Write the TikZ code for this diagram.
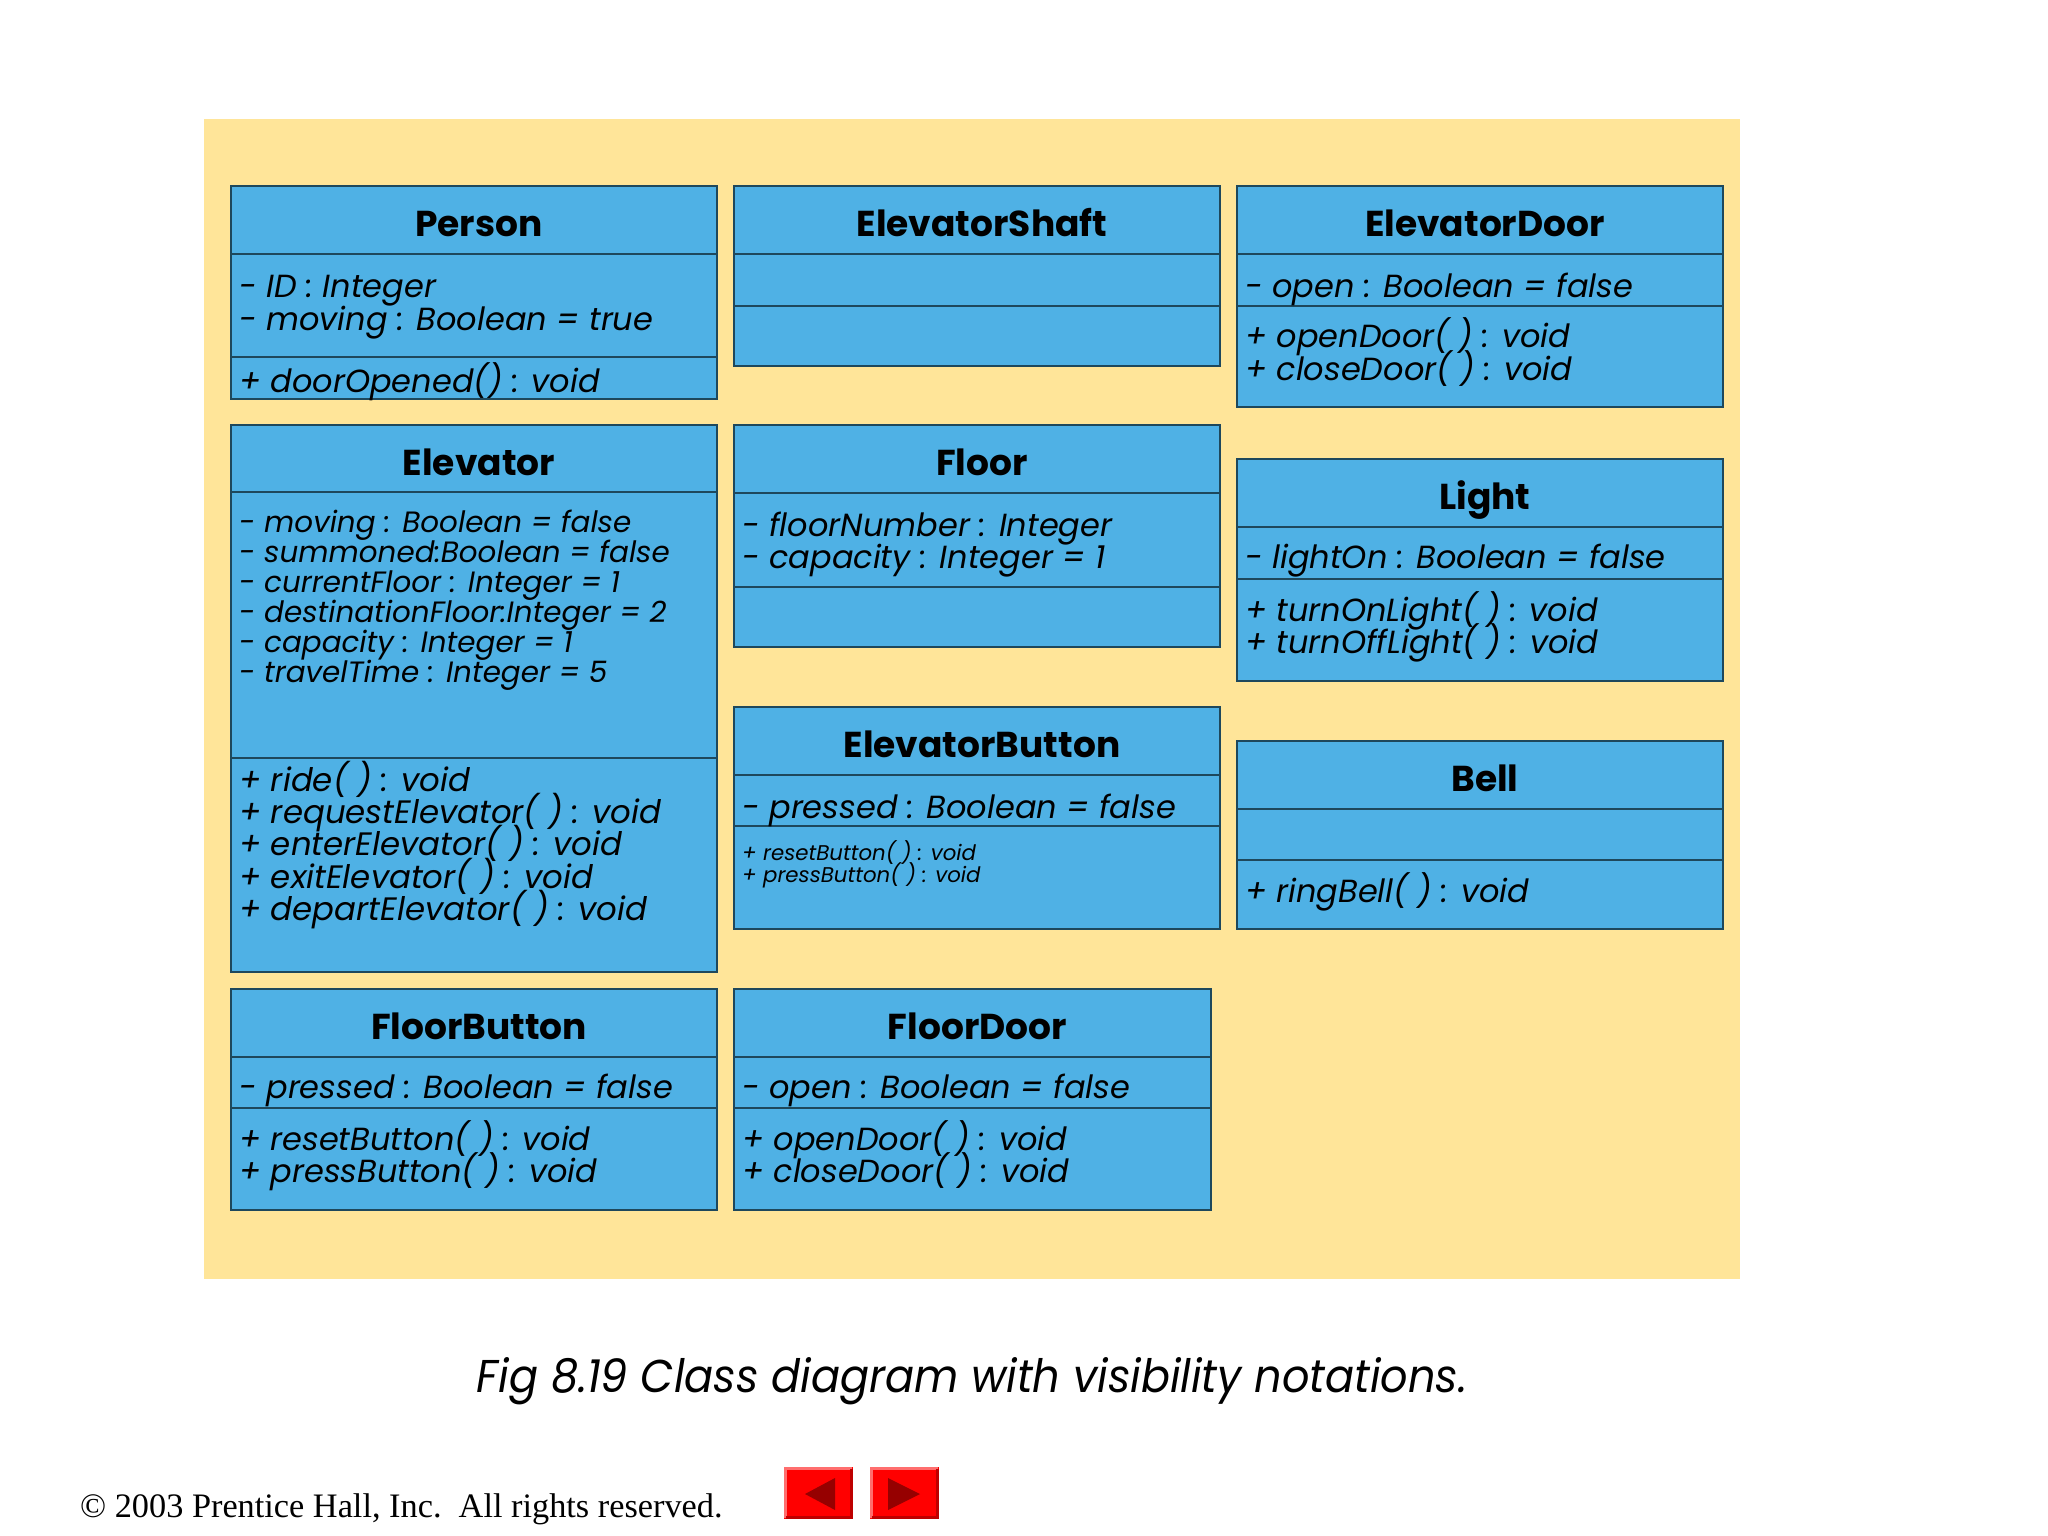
\documentclass[tikz,border=0pt]{standalone}
\usepackage{fontspec}
\usepackage{graphicx}
\setmainfont{Poppins}
\newfontfamily\timesfont{Liberation Serif}
\definecolor{slideyellow}{RGB}{255,229,153}
\definecolor{classblue}{RGB}{79,177,229}
\definecolor{classedge}{RGB}{30,72,92}
\definecolor{btnred}{RGB}{255,0,0}
\definecolor{btnlight}{RGB}{255,110,110}
\definecolor{btnshade}{RGB}{190,0,0}
\definecolor{btndark}{RGB}{150,0,0}
\begin{document}
\begin{tikzpicture}[x=1pt,y=-1pt,
  classline/.style={draw=classedge,line width=1.6pt},
  classname/.style={anchor=base,inner sep=0pt,font=\fontsize{36}{40}\selectfont\bfseries},
  member/.style={anchor=base west,inner sep=0pt,font=\fontsize{32}{34}\selectfont\itshape},
  tightmember/.style={member,font=\fontsize{29.4}{30}\selectfont\itshape},
  bigmember/.style={member,font=\fontsize{32.4}{34}\selectfont\itshape},
  smallmember/.style={member,font=\fontsize{21.3}{22}\selectfont\itshape}]
\def\umlclass#1#2#3#4#5#6#7#8{
  \fill[classblue] (#2,#4) rectangle (#3,#7);
  \draw[classline] (#2,#4) rectangle (#3,#7)
    (#2,#5) -- (#3,#5) (#2,#6) -- (#3,#6);
  \node[classname] (#1) at ({(#2+#3)/2+5},#4+50) {#8};
}
\def\members#1#2#3#4#5#6{
  \foreach \m [count=\i] in {#6}
    \node[#1] (#2\i) at (#3+8,{#4+(\i-1)*#5}) {\m};
}
\def\navbutton#1{
  \fill[btnred] (0,0) rectangle (69,52);
  \draw[btnlight,line width=3pt] (1.5,50.5) -- (1.5,1.5) -- (67.5,1.5);
  \draw[btnshade,line width=3pt] (1.5,50.5) -- (67.5,50.5) -- (67.5,1.5);
  \fill[btndark] #1;
}
\useasboundingbox (0,0) rectangle (2048,1536);
\fill[white] (0,0) rectangle (2048,1536);
\fill[slideyellow] (204,119) rectangle (1740,1279);

\umlclass{person}{231}{717}{186}{254}{357}{399}{Person}
\members{member}{person-a}{231}{297}{33}{- ID : Integer, - moving : Boolean = true}
\members{member}{person-m}{231}{392}{33}{+ doorOpened() : void}

\umlclass{shaft}{734}{1220}{186}{254}{306}{366}{ElevatorShaft}

\umlclass{edoor}{1237}{1723}{186}{254}{306}{407}{ElevatorDoor}
\members{member}{edoor-a}{1237}{297}{33}{- open : Boolean = false}
\members{member}{edoor-m}{1237}{347}{33}{+ openDoor( ) : void, + closeDoor( ) : void}

\umlclass{elevator}{231}{717}{425}{492}{758}{972}{Elevator}
\members{tightmember}{elevator-a}{231}{532}{30}{- moving : Boolean = false,
  - summoned:Boolean = false, - currentFloor : Integer = 1,
  - destinationFloor:Integer = 2, - capacity : Integer = 1,
  - travelTime : Integer = 5}
\members{bigmember}{elevator-m}{231}{791}{32.4}{+ ride( ) : void,
  + requestElevator( ) : void, + enterElevator( ) : void,
  + exitElevator( ) : void, + departElevator( ) : void}

\umlclass{floor}{734}{1220}{425}{493}{587}{647}{Floor}
\members{member}{floor-a}{734}{536}{32}{- floorNumber : Integer, - capacity : Integer = 1}

\umlclass{light}{1237}{1723}{459}{527}{579}{681}{Light}
\members{member}{light-a}{1237}{568}{32}{- lightOn : Boolean = false}
\members{member}{light-m}{1237}{621}{32}{+ turnOnLight( ) : void, + turnOffLight( ) : void}

\umlclass{ebutton}{734}{1220}{707}{775}{826}{929}{ElevatorButton}
\members{member}{ebutton-a}{734}{818}{32}{- pressed : Boolean = false}
\members{smallmember}{ebutton-m}{734}{860}{22}{+ resetButton( ) : void, + pressButton( ) : void}

\umlclass{bell}{1237}{1723}{741}{809}{860}{929}{Bell}
\members{member}{bell-m}{1237}{902}{32}{+ ringBell( ) : void}

\umlclass{fbutton}{231}{717}{989}{1057}{1108}{1210}{FloorButton}
\members{member}{fbutton-a}{231}{1098}{32}{- pressed : Boolean = false}
\members{member}{fbutton-m}{231}{1150}{32}{+ resetButton( ) : void, + pressButton( ) : void}

\umlclass{fdoor}{734}{1211}{989}{1057}{1108}{1210}{FloorDoor}
\members{member}{fdoor-a}{734}{1098}{32}{- open : Boolean = false}
\members{member}{fdoor-m}{734}{1150}{32}{+ openDoor( ) : void, + closeDoor( ) : void}

\node[anchor=base,inner sep=0pt,font=\fontsize{46}{50}\selectfont\itshape] (caption)
  at (972,1392) {\scalebox{0.935}[1]{Fig 8.19 Class diagram with visibility notations.}};
\node[anchor=base west,inner sep=0pt,font=\timesfont\fontsize{34.3}{40}\selectfont] (copyright)
  at (80,1517) {© 2003 Prentice Hall, Inc.\ \ All rights reserved.};
\begin{scope}[shift={(784,1467)}]
  \navbutton{(21,27) -- (51,11) -- (51,43) -- cycle}
\end{scope}
\begin{scope}[shift={(870,1467)}]
  \navbutton{(18,11) -- (50,27) -- (18,43) -- cycle}
\end{scope}
\end{tikzpicture}
\end{document}
